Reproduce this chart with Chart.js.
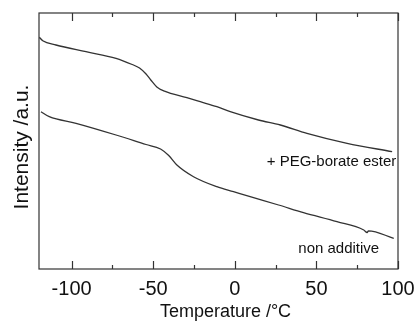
<!DOCTYPE html>
<html lang="en">
<head>
  <meta charset="UTF-8">
  <title>DSC curves</title>
  <script src="https://cdn.jsdelivr.net/npm/chart.js"></script>
  <style>
    html, body { margin: 0; padding: 0; background: #fff; }
    #wrap { width: 417px; height: 321px; }
  </style>
</head>
<body>
  <div id="wrap"><canvas id="dsc" width="417" height="321"></canvas></div>

  <script>
    // temperature (°C) and intensity (a.u.)
    const pegTemp = [-119.8, -117.7, -109.6, -91.2, -72.8, -62.9, -58.4, -54.4, -51.5, -47.8, -43.1, -29.4, -21.2, -11, -2.8, 14.5, 27.9, 44.2, 68.8, 96.4];
    const pegVal  = [231.7, 228.3, 224, 217.3, 210.7, 204.5, 201, 195, 189, 182, 177.8, 171.3, 167.3, 162.3, 157.3, 149, 144, 135.7, 125.7, 117.3];

    const baseTemp = [-118.8, -113.7, -97.3, -72.8, -54.4, -45.5, -40.5, -35.5, -25.3, -11, -0.8, 9.4, 26.8, 42.1, 62.6, 79, 81.1, 81.9, 97.4];
    const baseVal  = [157.3, 152.3, 145.7, 134, 124.5, 120, 113.5, 104, 92.3, 82.3, 77.3, 72.3, 64, 56.3, 47.3, 39, 36.5, 38.2, 30.7];

    const xTicks = [-100, -75, -50, -25, 0, 25, 50, 75, 100];
    const xLabels = ['-100', '', '-50', '', '0', '', '50', '', '100'];

    const xTitle = 'Temperature /°C';
    const yTitle = 'Intensity /a.u.';
    const curveNames = ['+ PEG-borate ester', 'non additive'];
    const nameAt = [[99, 107.5], [63.7, 20]];

    const font = '"Liberation Sans", Arial, sans-serif';
    const toPts = (xs, ys) => xs.map((x, i) => ({ x: x, y: ys[i] }));

    // frame, inward ticks top and bottom, axis titles, curve names
    const decor = {
      id: 'decor',
      afterDraw(chart) {
        const { ctx, chartArea: a, scales } = chart;
        ctx.save();
        ctx.strokeStyle = '#333';
        ctx.lineWidth = 1.2;
        ctx.strokeRect(a.left, a.top, a.right - a.left, a.bottom - a.top);
        xTicks.forEach((v, i) => {
          const px = Math.round(scales.x.getPixelForValue(v)) + 0.5;
          const len = xLabels[i] ? 8 : 4;
          ctx.beginPath();
          ctx.moveTo(px, a.bottom); ctx.lineTo(px, a.bottom - len);
          ctx.moveTo(px, a.top); ctx.lineTo(px, a.top + len);
          ctx.stroke();
        });

        ctx.fillStyle = '#111';
        ctx.font = '15px ' + font;
        ctx.textBaseline = 'middle';
        curveNames.forEach((t, i) => {
          ctx.textAlign = i === 0 ? 'right' : 'center';
          ctx.fillText(t, scales.x.getPixelForValue(nameAt[i][0]), scales.y.getPixelForValue(nameAt[i][1]));
        });

        ctx.font = '18px ' + font;
        ctx.textAlign = 'center';
        ctx.textBaseline = 'alphabetic';
        ctx.fillText(xTitle, (a.left + a.right) / 2 + 7, chart.height - 4);

        ctx.font = '21px ' + font;
        ctx.translate(28, (a.top + a.bottom) / 2 + 6);
        ctx.rotate(-Math.PI / 2);
        ctx.fillText(yTitle, 0, 0);
        ctx.restore();
      }
    };

    const lineStyle = {
      borderColor: '#333',
      borderWidth: 1.3,
      pointRadius: 0,
      fill: false,
      cubicInterpolationMode: 'monotone'
    };

    const noPad = s => { s.paddingLeft = 0; s.paddingRight = 0; s.paddingTop = 0; s.paddingBottom = 0; };

    new Chart(document.getElementById('dsc').getContext('2d'), {
      type: 'line',
      data: {
        datasets: [
          Object.assign({ label: curveNames[0], data: toPts(pegTemp, pegVal) }, lineStyle),
          Object.assign({ label: curveNames[1], data: toPts(baseTemp, baseVal) }, lineStyle)
        ]
      },
      options: {
        responsive: false,
        animation: false,
        layout: { padding: { top: 13, right: 19, left: 0, bottom: 0 } },
        plugins: { legend: { display: false }, tooltip: { enabled: false } },
        scales: {
          x: {
            type: 'linear',
            min: -120,
            max: 100,
            afterBuildTicks: s => { s.ticks = xTicks.map(v => ({ value: v })); },
            afterFit: s => { s.height = 52; noPad(s); },
            grid: { display: false, drawTicks: false },
            border: { display: false },
            ticks: {
              autoSkip: false,
              maxRotation: 0,
              padding: 8,
              color: '#111',
              font: { family: font, size: 20 },
              callback: (v) => xLabels[xTicks.indexOf(v)]
            }
          },
          y: {
            min: 0,
            max: 256,
            afterFit: s => { s.width = 39; noPad(s); },
            grid: { display: false, drawTicks: false },
            border: { display: false },
            ticks: { display: false }
          }
        }
      },
      plugins: [decor]
    });
  </script>
</body>
</html>
